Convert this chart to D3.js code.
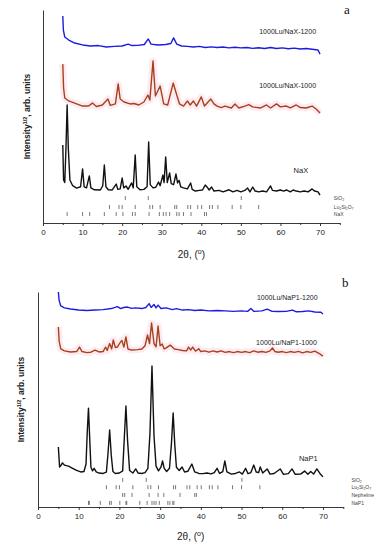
<!DOCTYPE html>
<meta charset="utf-8">
<style>
body { margin: 0; background: #fff; }
svg { font-family: "Liberation Sans", Arial, sans-serif; }
.trace { fill: none; stroke-width: 1.4px; stroke-linejoin: round; }
.halo { fill: none; stroke: #fdebf2; stroke-width: 7px; stroke-linejoin: round; }
.axis path, .axis line { stroke: #222; stroke-width: 0.9px; }
.axis text { font-size: 8px; fill: #222; }
.reftick { stroke: #555; stroke-width: 0.8px; }
.reflab { font-size: 5px; fill: #444; }
.tlab { font-size: 7px; fill: #222; }
</style>
<svg width="384" height="550"></svg>
<script src="https://cdn.jsdelivr.net/npm/d3@7"></script>
<script>

// panel a : Lu on NaX
var naX1200 = [[5,97.2],[5.15,90.6],[5.5,87.3],[6.5,85.9],[8,84.5],[10,83.6],[12,83.1],[14,83.3],[16,82.6],[18,82.9],[20,83.1],[21.5,84],[22.5,83.3],[24,83.4],[25.6,83.8],[26.6,86.4],[27.3,84],[29,83.6],[31,83.8],[32.3,84.3],[33,86.9],[33.8,84],[35,83.1],[36.5,82.9],[38,82.6],[39.5,82.9],[41,82.4],[42.5,82.7],[44,82.4],[45.5,82.6],[47,82.2],[48.5,82.5],[50,82.2],[51.5,82.4],[53,82],[54.5,82.3],[56,81.9],[57.5,82.4],[59,81.9],[60.5,82.2],[62,81.8],[63.5,82.1],[65,81.7],[66.5,81.9],[68,81.6],[69.5,81.2],[70,79.3]];

var naX1000 = [[5,74.6],[5.2,63.4],[5.5,58.7],[6.5,57.3],[8,56.3],[10,54.9],[11.5,54.9],[12.5,56.3],[13.5,54.7],[15,55.4],[16.4,58.2],[17,55.2],[18.3,55.9],[19,65.3],[19.5,58.2],[20.5,56.8],[22,55.9],[23,56.1],[24.2,55.4],[25.5,56.8],[26.5,60.1],[27,57.7],[27.8,76.1],[28.4,59.6],[29.6,64.3],[30.5,55.9],[31.5,55.4],[32.9,65.7],[33.8,60.1],[34.5,55.9],[35.5,54.9],[36.5,57.3],[37.2,55.4],[38,57.3],[38.8,54.9],[40,59.2],[40.8,54.9],[42.4,58.2],[43.2,55.9],[44,54.9],[45,54.2],[46,54.9],[47.6,54],[48.5,55.9],[49.5,54],[51,54.9],[52,55.6],[53,54.5],[55,54],[56.5,55.4],[57.5,54],[59,55.9],[60,54.5],[61.5,54.9],[62.5,54],[64,55.4],[65,54.2],[66.5,54],[68,54.9],[69,53.5],[70,51.6]];

var naX = [[5,36.6],[5.2,20.2],[5.5,19],[5.8,35],[6.1,55.4],[6.4,35],[6.8,20.2],[7.5,17.5],[8.5,16.4],[9.5,17],[10,25.4],[10.4,17],[11,16.5],[11.7,22.1],[12.1,16.5],[13,15.6],[14.5,15.5],[15.1,17.5],[15.5,27.2],[15.9,17],[16.5,15.6],[17.5,15.5],[18.5,18.3],[18.9,15.8],[19.5,16],[20,21.1],[20.4,16.5],[21,17.4],[21.5,15.8],[22.4,18.8],[22.8,16.5],[23.3,31.9],[23.7,17],[24.5,15.6],[25.5,15.8],[26.3,17],[26.7,38],[27.1,18],[27.8,16.5],[28.5,16.8],[29.2,19.2],[29.6,17.5],[30.3,22.5],[30.6,19],[31,31],[31.4,19],[32,23.5],[32.4,18.5],[33,18],[33.6,23],[34,18.8],[34.4,20],[34.8,17],[35.5,16.5],[36.5,16],[37.3,18.8],[37.7,15.8],[38.5,15],[39.5,15.3],[40.3,15.5],[41,17.8],[41.5,16.8],[42,15.5],[42.6,16.9],[43.2,15],[44.5,15.3],[45.5,14.6],[47,15.6],[48,14.6],[49,15.3],[50,14.6],[51,15.3],[51.7,16.4],[52.3,14.6],[53,16.9],[53.6,15],[54.5,14.6],[55.5,15],[56.5,14.6],[57.5,17.4],[58,15.3],[59,15],[60,15.5],[60.8,15],[61.5,15.5],[62.5,14.6],[63.2,15.5],[64,15],[65,14.6],[66,15],[67,14.6],[68,16],[68.6,15],[69.5,14.6],[70,13.1]];

// panel b : Lu on NaP1
var naP1200 = [[5,100],[5.2,96],[5.6,93.5],[6.5,92.6],[8,92.1],[10,91.6],[12,91.4],[14,91.6],[16,91.8],[18,92.3],[19.5,93.2],[20.3,92.3],[21,92.8],[22,93],[23,92.4],[24,92.6],[25.5,92.3],[26.5,92.8],[27.3,94.6],[27.8,92.8],[28.5,94.2],[29,92.6],[29.5,93.9],[30.2,92.3],[31.5,92.6],[33,91.8],[34,92.3],[35.5,91.6],[37,91.8],[38.5,91.4],[40,91.6],[42,91.2],[44,91.4],[46,91.2],[48,91],[50,91.2],[51.5,91],[52.3,92.3],[53,91],[55,91.2],[56.3,92],[57.5,91],[59,90.9],[61,91],[62.5,91.6],[63.5,90.8],[65,90.9],[66.5,91.2],[68,90.7],[69.5,90.6],[70,89.8]];

var naP1000 = [[5,83.7],[5.2,77],[5.6,73.5],[6.5,72.6],[8,72.1],[9.5,72.3],[10.2,74.4],[10.8,72.3],[12,71.8],[13,72],[14,73],[15,72.1],[16,72.3],[16.6,74.4],[17,72.8],[17.6,76],[18.1,73.5],[18.5,77.7],[19,74.2],[19.5,74.4],[20,76],[20.6,77.5],[21.1,74.4],[21.6,79.1],[22.1,73.5],[23,73],[24.5,73.2],[25.5,73.5],[26.3,75],[26.9,80],[27.4,76],[27.9,85.6],[28.5,76],[29,74.5],[29.5,84.2],[30,75],[30.5,75.8],[31,73.5],[31.5,74],[32.5,75.3],[33.5,73.5],[34.5,73.2],[35.5,72.8],[36.5,72.6],[37,74.4],[37.5,73],[38,74.4],[38.7,72.5],[39.5,73.6],[40,72.3],[41,72.6],[42,72],[43,72.6],[44,72.1],[45,72.6],[46,71.9],[47,72.3],[48,71.8],[49,72.3],[50,71.9],[51,72.3],[52,71.8],[53,72.6],[54,72],[55,72.3],[56,71.9],[57,72.6],[57.6,74],[58.2,72.3],[59,72],[60,72.3],[61,71.8],[62,72.3],[63,71.9],[64,72.4],[65,71.7],[66,72.3],[67,71.9],[68,72.5],[69,71.5],[70,70.2]];

var naP1 = [[5,27.9],[5.3,18.6],[5.7,19.5],[6,20.5],[6.5,19.5],[7.5,19],[8.5,18],[9.5,17],[10.5,16.3],[11.3,16.5],[11.8,20],[12.1,35],[12.4,46],[12.7,32],[13,18.5],[13.4,16.8],[13.8,18],[14.3,16.3],[15,15.8],[16,15.6],[16.8,16.2],[17.2,25],[17.6,35.8],[18,24],[18.4,16.5],[19,15.6],[20,15.8],[20.8,16.8],[21.2,32],[21.6,47],[22,31],[22.5,17],[23.3,15.8],[24,17.7],[24.6,15.8],[25.5,15.6],[26.3,16],[27,18],[27.5,34],[28,65.6],[28.5,33],[29,19],[29.6,16.8],[30.2,18.5],[30.6,21.4],[31,18],[31.6,16.5],[32.3,18],[32.8,30],[33.2,43.7],[33.6,29],[34,18.5],[34.7,17],[35.4,18.6],[36,16.3],[36.8,16.6],[37.8,20],[38.5,16.3],[39.5,15.6],[40.5,15.5],[41.5,15.8],[42.5,15.4],[43.3,16],[44,18],[44.6,15.6],[45.4,16.5],[45.9,21.4],[46.4,16.3],[47.5,15.3],[48.5,15.6],[49.5,16.3],[50.2,15.3],[51,18],[51.6,15.5],[52.3,16],[53,19.5],[53.6,16.3],[54.2,16],[54.6,18.6],[55.2,15.8],[56.3,17.7],[57,15.3],[58,15.6],[59.5,17.7],[60.3,15.2],[61.5,15.5],[62.4,17.7],[63.2,15.2],[64.5,15.3],[65.5,16.7],[66.3,15.2],[67,16.5],[67.7,15.3],[68.5,17.7],[69.3,15.5],[70,14]];

// reference patterns (2θ positions of tick marks)
var refSiO2 = [20.8, 26.6, 50.1];
var refLu2Si2O7 = [16.8, 19.2, 20, 23.3, 27, 27.7, 29.6, 33.3, 33.8, 36.6, 37.3, 39.1, 40.1, 42.1, 42.8, 44.2, 47.8, 50, 54.5];
var refNaX = [6.1, 10, 11.8, 15.5, 18.5, 20.2, 22.6, 23.3, 26.8, 29.4, 30.4, 31.1, 32, 33.8, 34.4, 35.5, 37.4, 40.8, 41.3];
var refNepheline = [20.8, 21.3, 23.1, 27.3, 29.5, 30.9, 34.9, 38.5, 38.9];
var refNaP1 = [12.4, 12.6, 15.3, 17.6, 18, 20.1, 21.6, 21.8, 25, 26.8, 28, 28.5, 29, 29.8, 31.9, 32.4, 33.1, 33.4];

var xTicks = [0, 10, 20, 30, 40, 50, 60, 70];
var xMinor = [5, 15, 25, 35, 45, 55, 65, 75];

var panels = [
  { letter: "a", xr: [43, 339.8], yr: [223, 10], xtitleY: 258, ylabX: 30, labX: 73.5,
    letterX: 344, letterY: 14,
    traces: [
      {data: naX1200, color: "#1c1ce0", label: "1000Lu/NaX-1200", lx: 69, ly: 88.5},
      {data: naX1000, color: "#a8401c", label: "1000Lu/NaX-1000", lx: 69, ly: 63.5, halo: true},
      {data: naX, color: "#111", label: "NaX", lx: 67, ly: 23.5, size: 7.5}
    ],
    refs: [
      {name: "SiO2", pos: refSiO2, y: 11.7},
      {name: "Lu2Si2O7", pos: refLu2Si2O7, y: 7.5},
      {name: "NaX", pos: refNaX, y: 4.2}
    ]},
  { letter: "b", xr: [38, 343.3], yr: [507, 292], xtitleY: 540, ylabX: 24, labX: 77,
    letterX: 342, letterY: 287,
    traces: [
      {data: naP1200, color: "#1c1ce0", label: "1000Lu/NaP1-1200", lx: 68.7, ly: 96.5},
      {data: naP1000, color: "#a8401c", label: "1000Lu/NaP1-1000", lx: 68.5, ly: 75.5, halo: true},
      {data: naP1, color: "#111", label: "NaP1", lx: 68.7, ly: 21.5, size: 7.5}
    ],
    refs: [
      {name: "SiO2", pos: refSiO2, y: 12.6},
      {name: "Lu2Si2O7", pos: refLu2Si2O7, y: 9.2},
      {name: "Nepheline", pos: refNepheline, y: 5.6},
      {name: "NaP1", pos: refNaP1, y: 1.9}
    ]}
];

var svg = d3.select("svg");

panels.forEach(function(p) {
  var x = d3.scaleLinear().domain([0, 75]).range(p.xr),
      y = d3.scaleLinear().domain([0, 100]).range(p.yr);

  var line = d3.line()
      .x(function(d) { return x(d[0]); })
      .y(function(d) { return y(d[1]); });

  var g = svg.append("g");

  // x axis with minor ticks
  g.append("g")
      .attr("class", "axis")
      .attr("transform", "translate(0," + y(0) + ")")
      .call(d3.axisBottom(x).tickValues(xTicks).tickSize(3).tickSizeOuter(0).tickPadding(3));
  g.append("g")
      .attr("class", "axis")
      .attr("transform", "translate(0," + y(0) + ")")
      .call(d3.axisBottom(x).tickValues(xMinor).tickSize(2).tickFormat(""))
    .select(".domain").remove();

  // y axis (bare line)
  g.append("g")
      .attr("class", "axis")
      .attr("transform", "translate(" + x(0) + ",0)")
      .call(d3.axisLeft(y).tickValues([]).tickSizeOuter(0));

  p.traces.forEach(function(t) {
    if (t.halo) {
      g.append("path").attr("class", "halo").attr("d", line(t.data));
    }
    g.append("path")
        .attr("class", "trace")
        .attr("d", line(t.data))
        .style("stroke", t.color);
    g.append("text")
        .attr("class", "tlab")
        .attr("x", x(t.lx))
        .attr("y", y(t.ly))
        .attr("text-anchor", "end")
        .style("font-size", (t.size || 7) + "px")
        .text(t.label);
  });

  // reference patterns
  p.refs.forEach(function(r) {
    g.selectAll(null)
      .data(r.pos)
      .enter().append("line")
        .attr("class", "reftick")
        .attr("x1", function(d) { return x(d); })
        .attr("x2", function(d) { return x(d); })
        .attr("y1", y(r.y) - 2)
        .attr("y2", y(r.y) + 2);

    var lab = g.append("text")
        .attr("class", "reflab")
        .attr("x", x(p.labX))
        .attr("y", y(r.y) + 1.8);
    if (r.name == "SiO2") {
      lab.append("tspan").text("SiO");
      lab.append("tspan").attr("dy", 1).style("font-size", "3.5px").text("2");
    } else if (r.name == "Lu2Si2O7") {
      lab.append("tspan").text("Lu");
      lab.append("tspan").attr("dy", 1).style("font-size", "3.5px").text("2");
      lab.append("tspan").attr("dy", -1).text("Si");
      lab.append("tspan").attr("dy", 1).style("font-size", "3.5px").text("2");
      lab.append("tspan").attr("dy", -1).text("O");
      lab.append("tspan").attr("dy", 1).style("font-size", "3.5px").text("7");
    } else {
      lab.text(r.name);
    }
  });

  // axis titles
  var xt = g.append("text")
      .attr("x", (x(0) + x(75)) / 2)
      .attr("y", p.xtitleY)
      .attr("text-anchor", "middle")
      .style("font-size", "10px")
      .attr("fill", "#222");
  xt.append("tspan").text("2θ, (");
  xt.append("tspan").attr("dy", -4).style("font-size", "7px").text("o");
  xt.append("tspan").attr("dy", 4).text(")");

  var yt = g.append("text")
      .attr("transform", "translate(" + p.ylabX + "," + (y(0) + y(100)) / 2 + ") rotate(-90)")
      .attr("text-anchor", "middle")
      .style("font-size", "8.5px")
      .style("font-weight", "bold")
      .attr("fill", "#222");
  yt.append("tspan").text("Intensity");
  yt.append("tspan").attr("dy", -3).style("font-size", "5.5px").text("1/2");
  yt.append("tspan").attr("dy", 3).text(", arb. units");

  g.append("text")
      .attr("x", p.letterX)
      .attr("y", p.letterY)
      .style("font-family", "'Liberation Serif', 'Times New Roman', serif")
      .style("font-size", "13px")
      .attr("fill", "#111")
      .text(p.letter);
});

</script>
